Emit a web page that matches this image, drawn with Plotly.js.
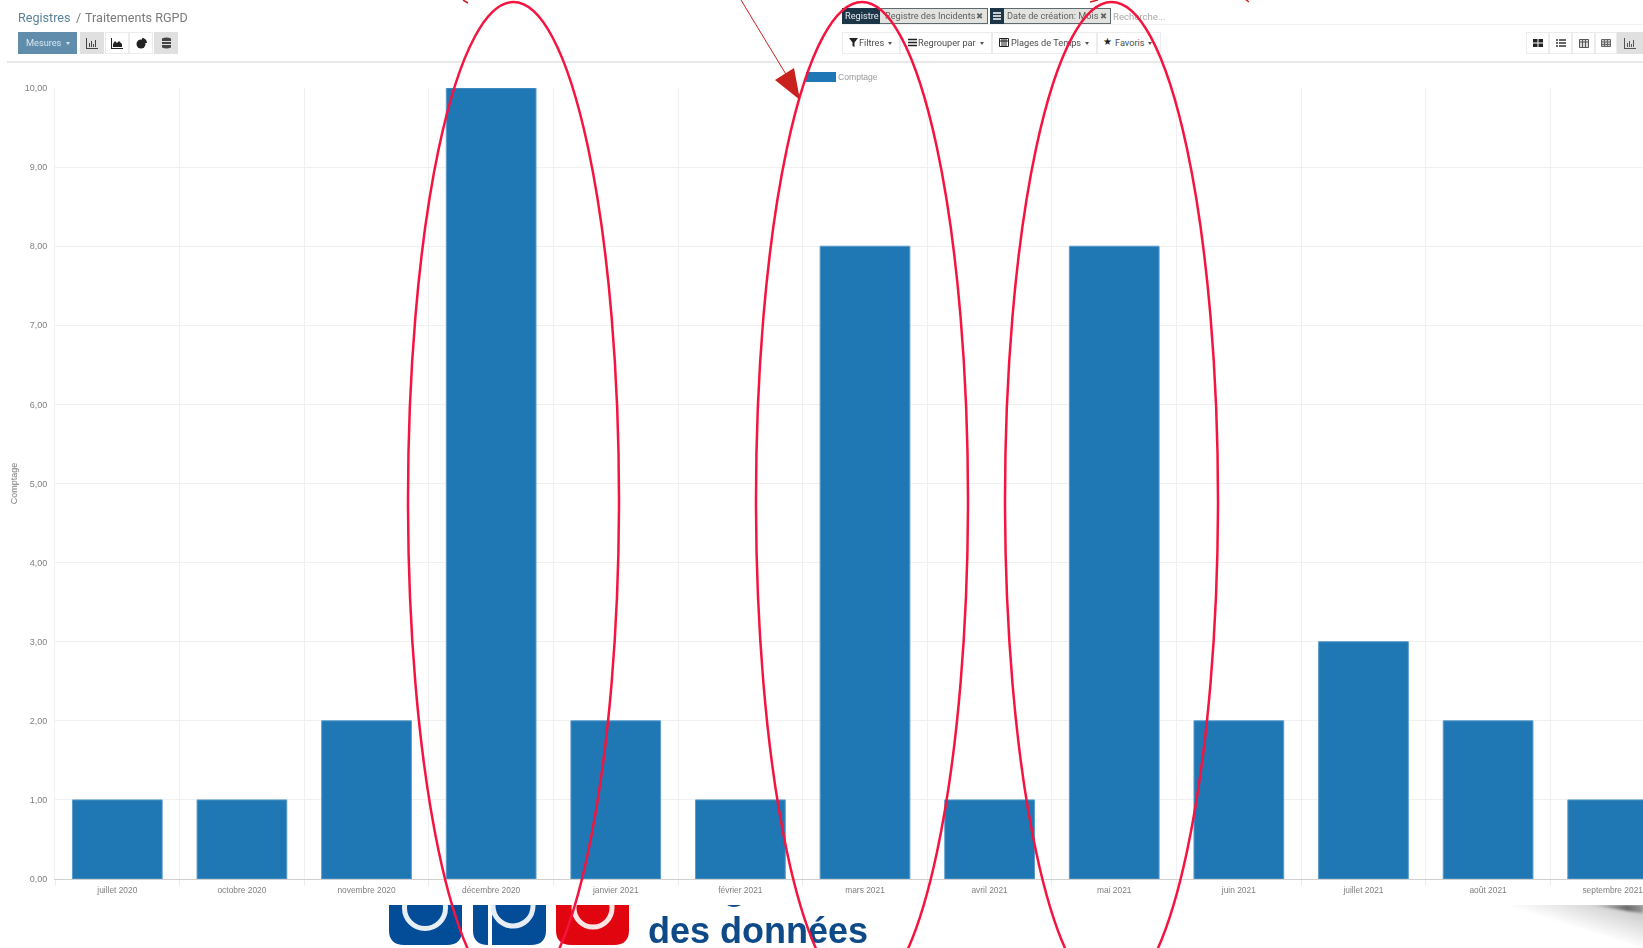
<!DOCTYPE html>
<html lang="fr"><head><meta charset="utf-8">
<script src="https://cdn.plot.ly/plotly-3.0.1.min.js"></script>
<style>
html,body{margin:0;padding:0;background:#fff;width:1643px;height:948px;overflow:hidden}
#root{position:absolute;left:0;top:0;width:1643px;height:948px;overflow:hidden;filter:blur(.45px);font-family:Roboto,sans-serif}
#chart{position:absolute;left:0;top:0;width:1700px;height:948px;z-index:2}
.a{position:absolute;box-sizing:border-box;white-space:nowrap}
.btn{height:22px;top:32px;border:1px solid #ececec;background:#fff}
.g{background:#e0e0e0;border-color:#e0e0e0}
.c{display:flex;align-items:center;justify-content:center}
.t{top:35.500px;font-size:9.2px;line-height:14px;color:#4c4c4c}
.k{top:42px;width:0;height:0;border-left:2.5px solid transparent;border-right:2.5px solid transparent;border-top:3px solid #555}
.x{top:10px;font:bold 8.500px/12px 'DejaVu Sans',sans-serif;color:#666}
.chip{top:9px;font-size:9.2px;line-height:14px;color:#5e5e5e}
</style></head><body>
<div id="root">
<div class="a" style="left:18px;top:9px;font-size:12.6px;line-height:17px;color:#5b8299">Registres</div>
<div class="a" style="left:76px;top:9px;font-size:12.6px;line-height:17px;color:#7a7a7a">/</div>
<div class="a" style="left:85px;top:9px;font-size:12.6px;line-height:17px;color:#7a7a7a">Traitements RGPD</div>
<div class="a" style="left:18px;top:32px;width:59px;height:22px;background:#5f8dab"></div>
<div class="a t" style="left:26px;color:#d8e6ef">Mesures</div>
<div class="k a" style="left:66px;border-top-color:#d8e6ef"></div>
<div class="a btn g c" style="left:80px;width:24px"><svg width="12" height="11" viewBox="0 0 12 11"><path d="M0 0v11h12v-1H1V0zM3 5h1v4H3zM5 3h1v6H5zM7 6h1v3H7zM9 2h1v7H9z" fill="#444"/></svg></div>
<div class="a btn c" style="left:105px;width:24px"><svg width="12" height="11" viewBox="0 0 12 11"><path d="M0 0v11h12v-1H1V0zM2 9V6l2-3 2 2 2-2 3 3v3z" fill="#222"/></svg></div>
<div class="a btn c" style="left:129px;width:24px"><svg width="11" height="11" viewBox="0 0 11 11"><circle cx="5" cy="6" r="4.500" fill="#222"/><path d="M6 0a5 5 0 0 1 5 5H6z" fill="#222"/></svg></div>
<div class="a btn g c" style="left:154px;width:24px"><svg width="9" height="12" viewBox="0 0 9 12"><path d="M0 1.500Q4.500-.5 9 1.500v9Q4.500 12.500 0 10.500z" fill="#444"/><path d="M0 4.500h9M0 7.500h9" stroke="#e0e0e0"/></svg></div>
<div class="a" style="left:7px;top:61px;width:1636px;height:2px;background:#e8e8e8"></div>
<div class="a" style="left:842px;top:24px;width:801px;height:1px;background:#f1f1f1"></div>

<div class="a" style="left:842px;top:8px;width:146px;height:16px;background:#e2e2df;border:1px solid #5d6a70"></div>
<div class="a" style="left:842px;top:8px;width:38px;height:16px;background:#1d3647"></div>
<div class="a chip" style="left:845px;color:#e6ecf0">Registre</div>
<div class="a chip" style="left:885px">Registre des Incidents</div>
<div class="a x" style="left:976px">✖</div>
<div class="a" style="left:990px;top:8px;width:121px;height:16px;background:#e2e2df;border:1px solid #5d6a70"></div>
<div class="a" style="left:990px;top:8px;width:14px;height:16px;background:#1d3647"><svg width="14" height="16" style="display:block"><path d="M3 5h8M3 8h8M3 11h8" stroke="#fff" stroke-width="1.500"/></svg></div>
<div class="a chip" style="left:1007px">Date de création: Mois</div>
<div class="a x" style="left:1100px">✖</div>
<div class="a chip" style="left:1113px;top:9.500px;color:#aaa;font-size:9.600px">Recherche...</div>

<div class="a btn" style="left:842px;width:58px"></div>
<svg class="a" style="left:849px;top:38px" width="9" height="9"><path d="M0 0h9L5.500 4.500V9L3.500 8V4.500z" fill="#222"/></svg>
<div class="a t" style="left:859px">Filtres</div><div class="a k" style="left:888px"></div>
<div class="a btn" style="left:900px;width:92px"></div>
<svg class="a" style="left:908px;top:38px" width="9" height="9"><path d="M0 1.500h9M0 4.500h9M0 7.500h9" stroke="#222" stroke-width="1.300"/></svg>
<div class="a t" style="left:918px">Regrouper par</div><div class="a k" style="left:980px"></div>
<div class="a btn" style="left:992px;width:105px"></div>
<svg class="a" style="left:999px;top:37px" width="10" height="10"><path d="M.5 1.500h9v8h-9zM.5 4h9M3 1v8M5 1v8M7 1v8" stroke="#222" fill="none"/></svg>
<div class="a t" style="left:1011px">Plages de Temps</div><div class="a k" style="left:1085px"></div>
<div class="a btn" style="left:1097px;width:64px"></div>
<div class="a" style="left:1103px;top:35px;font:10px/14px 'DejaVu Sans',sans-serif;color:#222">★</div>
<div class="a t" style="left:1115px">Favoris</div><div class="a k" style="left:1148px"></div>

<div class="a btn c" style="left:1526px;width:23px"><svg width="10" height="8"><path d="M0 0h4.500v3.500H0zM5.500 0H10v3.500H5.500zM0 4.500h4.500V8H0zM5.500 4.500H10V8H5.500z" fill="#222"/></svg></div>
<div class="a btn c" style="left:1549px;width:23px"><svg width="10" height="8"><path d="M0 1h2M3 1h7M0 4h2M3 4h7M0 7h2M3 7h7" stroke="#333" stroke-width="1.300"/></svg></div>
<div class="a btn c" style="left:1572px;width:23px"><svg width="10" height="10"><path d="M.5 1.500h9v8h-9zM.5 4h9M3.500 1v8M6.500 1v8" stroke="#555" fill="#ddd"/></svg></div>
<div class="a btn c" style="left:1595px;width:22px"><svg width="10" height="8"><path d="M.5.500h9v7h-9zM.5 3h9M.5 5.500h9M3.500 0v8M6.500 0v8" stroke="#666" fill="#ccc"/></svg></div>
<div class="a btn g c" style="left:1617px;width:26px"><svg width="12" height="11" viewBox="0 0 12 11"><path d="M0 0v11h12v-1H1V0zM3 5h1v4H3zM5 3h1v6H5zM7 6h1v3H7zM9 2h1v7H9z" fill="#555"/></svg></div>

<svg class="a" style="left:0;top:905px;z-index:1" width="1643" height="43" viewBox="0 905 1643 43">
<defs>
<linearGradient id="sh" x1="1575" y1="928" x2="1587" y2="890" gradientUnits="userSpaceOnUse"><stop offset="0" stop-color="#fff"/><stop offset="1" stop-color="#c4c4c4"/></linearGradient>
<linearGradient id="sd" x1="1590" y1="905" x2="1643" y2="905" gradientUnits="userSpaceOnUse"><stop offset="0" stop-color="#777" stop-opacity="0"/><stop offset=".7" stop-color="#6a6a6a"/><stop offset="1" stop-color="#999"/></linearGradient>
<filter id="b1" x="-20%" y="-50%" width="140%" height="200%"><feGaussianBlur stdDeviation="1.300"/></filter>
</defs>
<path d="M389 880h73v50q0 15-15 15h-43q-15 0-15-15z" fill="#024c98"/>
<path d="M473 880h73v50q0 15-15 15h-43q-15 0-15-15z" fill="#024c98"/>
<path d="M490 905v40" stroke="#fff" stroke-width="4"/>
<path d="M556 880h73v50q0 15-15 15h-43q-15 0-15-15z" fill="#e0050f"/>
<circle cx="425" cy="908" r="20.500" fill="none" stroke="#e8eef5" stroke-width="5"/>
<circle cx="513" cy="906" r="20" fill="none" stroke="#e8eef5" stroke-width="5"/>
<circle cx="593" cy="908" r="19" fill="none" stroke="#fbe5e5" stroke-width="5"/>
<text x="648" y="943" font-family="Liberation Sans, Arial, sans-serif" font-weight="700" font-size="36" fill="#0e4a87">des données</text>
<path d="M727 905q7 4 14 0z" fill="#0e4a87"/>
<path d="M853 904h27" stroke="#b8c4d2" stroke-width="1.500" stroke-dasharray="4 4"/>
<path d="M1506 905H1643V948z" fill="url(#sh)"/>
<path d="M1590 905H1643V913Q1620 910 1590 905z" fill="url(#sd)" filter="url(#b1)"/>
</svg>
<div id="chart"></div>
</div>
<script>
// Chart data
const months = ['juillet 2020','octobre 2020','novembre 2020','décembre 2020','janvier 2021','février 2021','mars 2021','avril 2021','mai 2021','juin 2021','juillet 2021','août 2021','septembre 2021'];
const counts = [1,1,2,10,2,1,8,1,8,2,3,2,1];
const seriesName = 'Comptage';
const yTicks = [0,1,2,3,4,5,6,7,8,9,10];

// Page geometry of the chart frame, in screen pixels
const W = 1700, H = 948, L = 55, R = 1675, T = 88, B = 879;
const px = x => (x - L) / (R - L);
const py = y => (B - y) / (B - T);

// Hand-drawn annotation ellipses: left, right, top, bottom on the screen
const ellipseBoxes = [[408,619,2,998],[756,968,2,998],[1005,1218,2,998]];
const ellipses = ellipseBoxes.map(b => ({type:'circle',xref:'paper',yref:'paper',
  x0:px(b[0]),x1:px(b[1]),y0:py(b[3]),y1:py(b[2]),
  line:{color:'#f5143f',width:2.5},layer:'above'}));
const RED = '#c9211e';
function paperPath(pts){return 'M'+pts.map(p=>px(p[0])+','+py(p[1])).join('L')+'Z';}
const extras = [
  {type:'line',xref:'paper',yref:'paper',x0:px(741),y0:py(0),x1:px(787),y1:py(76),line:{color:RED,width:1},layer:'above'},
  {type:'path',xref:'paper',yref:'paper',path:paperPath([[775,80],[794,68],[800,100]]),fillcolor:RED,line:{color:RED,width:0},layer:'above'},
  {type:'line',xref:'paper',yref:'paper',x0:px(463),y0:py(0),x1:px(468),y1:py(3),line:{color:RED,width:1.5},layer:'above'},
  {type:'line',xref:'paper',yref:'paper',x0:px(1090),y0:py(2),x1:px(1098),y1:py(0),line:{color:RED,width:1.5},layer:'above'},
  {type:'line',xref:'paper',yref:'paper',x0:px(1246),y0:py(0),x1:px(1249),y1:py(2),line:{color:RED,width:1.5},layer:'above'},
  {type:'rect',xref:'paper',yref:'paper',x0:px(806),x1:px(836),y0:py(82),y1:py(72),fillcolor:'#1f77b4',line:{width:0},layer:'below'}
];
const FONT = 'Liberation Sans, Arial, sans-serif';

Plotly.newPlot('chart',[{
  type:'bar',name:seriesName,x:months,y:counts,
  marker:{color:'#1f77b4',line:{color:'#5b9ccb',width:1}},
  hoverinfo:'x+y'
}],{
  width:W,height:H,
  margin:{l:L,r:W-R,t:T,b:H-B,pad:0},
  paper_bgcolor:'rgba(0,0,0,0)',plot_bgcolor:'rgba(0,0,0,0)',
  separators:', ',
  bargap:0.28,
  showlegend:true,
  legend:{x:px(798),xanchor:'left',y:py(62),yanchor:'top',orientation:'h',font:{family:FONT,size:8.6,color:'#999'},bgcolor:'rgba(0,0,0,0)',itemclick:false},
  font:{family:FONT,size:8.5,color:'#808080'},
  xaxis:{type:'category',categoryorder:'array',categoryarray:months,tickmode:'array',tickvals:months,ticktext:months,
    tickson:'boundaries',ticks:'outside',ticklen:6,tickcolor:'#ececec',gridcolor:'#f0f0f0',showgrid:true,
    showline:true,linecolor:'#d0d0d0',linewidth:1,tickangle:0,zeroline:false,ticklabelstandoff:3,
    tickfont:{family:FONT,size:8.4,color:'#808080'},range:[-0.5,12.5]},
  yaxis:{range:[0,10],tickmode:'array',tickvals:yTicks,tickformat:'.2f',ticks:'',
    gridcolor:'#f0f0f0',showgrid:true,zeroline:false,showline:true,linecolor:'#f0f0f0',
    ticklabelstandoff:5,tickfont:{family:FONT,size:9,color:'#808080'},
    title:{text:seriesName,font:{family:FONT,size:9,color:'#808080'},standoff:5}},
  shapes:ellipses.concat(extras)
},{staticPlot:true,displayModeBar:false}).then(() => {
  // Flat legend swatch: fit the legend's own mark inside the wide rectangle
  document.querySelectorAll('#chart g.legendpoints path').forEach(p => {
    p.setAttribute('d','M6,4H-6V-4H6Z');
    p.style.strokeWidth = '0';
  });
});
</script>
</body></html>
